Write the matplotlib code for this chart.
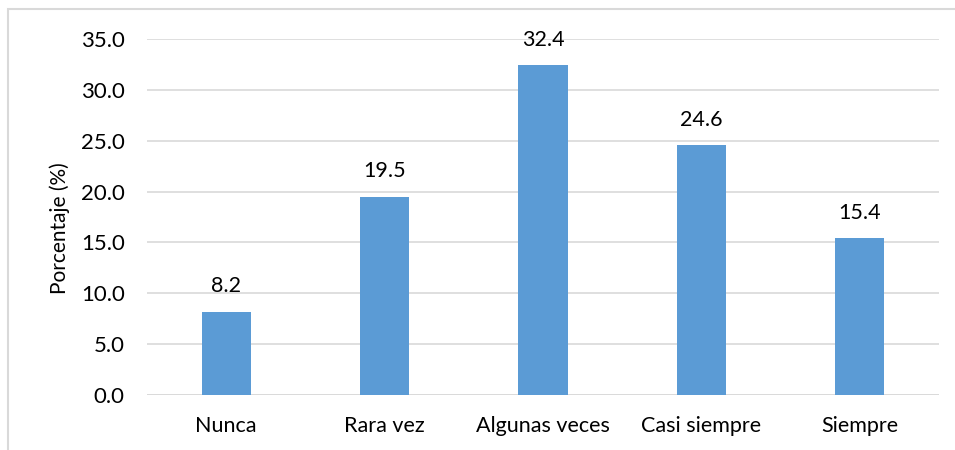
import matplotlib
matplotlib.use("Agg")
import matplotlib.pyplot as plt
from matplotlib.patches import Rectangle

categories = ["Nunca", "Rara vez", "Algunas veces", "Casi siempre", "Siempre"]
values = [8.2, 19.5, 32.4, 24.6, 15.4]
yticks = [0.0, 5.0, 10.0, 15.0, 20.0, 25.0, 30.0, 35.0]

plt.rcParams['font.family'] = ['Lato', 'DejaVu Sans']

fig = plt.figure(figsize=(9.55, 4.5), dpi=100)
ax = fig.add_axes([147 / 955, 1 - 395 / 450, (939 - 147) / 955, (395 - 39) / 450])

x = range(len(categories))
ax.bar(x, values, width=0.31, color="#5B9BD5", zorder=3)
for xi, v in zip(x, values):
    ax.annotate(f"{v:.1f}", (xi, v), xytext=(0, 11), textcoords="offset points",
                ha="center", va="bottom", fontsize=15.5, color="#000000")

ax.set_xlim(-0.5, len(categories) - 0.5)
ax.set_ylim(0, 35)
ax.set_yticks(yticks)
ax.set_yticklabels([f"{t:.1f}" for t in yticks], fontsize=16)
ax.set_xticks(list(x))
ax.set_xticklabels(categories, fontsize=15.5)
ax.tick_params(axis="both", length=0, colors="#000000")
ax.tick_params(axis="y", pad=16)
ax.tick_params(axis="x", pad=15)
ax.grid(axis="y", color="#D9D9D9", linewidth=1.2, zorder=0)
for s in ax.spines.values():
    s.set_visible(False)
ax.axhline(0, color="#D9D9D9", linewidth=1.2, zorder=1)

fig.text(60 / 955, 1 - 228 / 450, "Porcentaje (%)", rotation=90,
         ha="center", va="center", fontsize=15)

# outer frame (left and top edges visible)
fig.add_artist(Rectangle((8 / 955, -0.05), 1.2, 1.05 - 9 / 450,
                         transform=fig.transFigure, fill=False,
                         edgecolor="#D9D9D9", linewidth=1.5))

fig.savefig("out.png", dpi=100)
